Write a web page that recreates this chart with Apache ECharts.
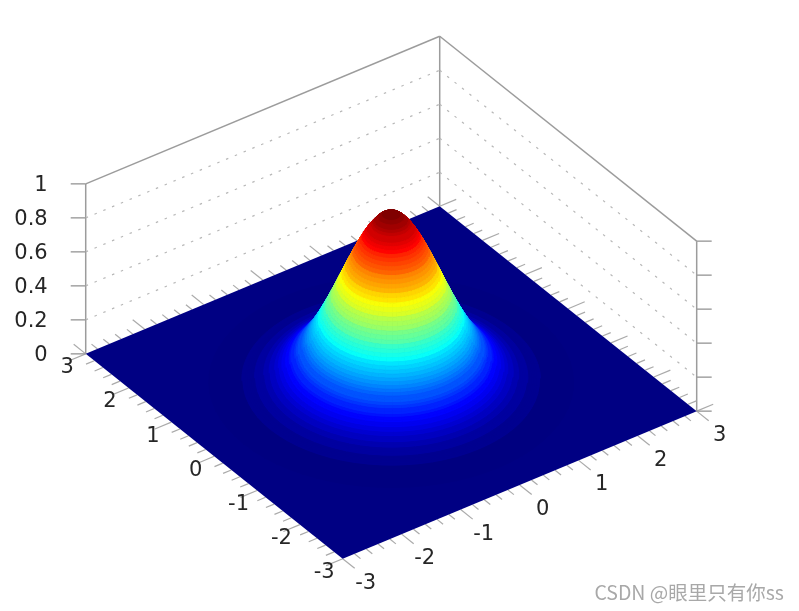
<!DOCTYPE html>
<html>
<head>
<meta charset="utf-8">
<title>surface</title>
<style>
  html, body { margin: 0; padding: 0; background: #fff; }
  /* the source picture is a soft upscaled raster */
  #main { width: 799px; height: 611px; filter: blur(0.45px); }
</style>
<script src="https://cdn.jsdelivr.net/npm/echarts@6/dist/echarts.min.js"></script>
</head>
<body>
<div id="main"></div>
<script>
// tick labels
var xTicks = [-3, -2, -1, 0, 1, 2, 3];
var yTicks = [-3, -2, -1, 0, 1, 2, 3];
var zTicks = [0, 0.2, 0.4, 0.6, 0.8, 1];
var zTickLabels = ['0', '0.2', '0.4', '0.6', '0.8', '1'];

// height of the bump against distance from the centre
var ringRadii = [
    0, 0.025, 0.05, 0.075, 0.1, 0.125, 0.15, 0.175, 0.2, 0.225,
    0.25, 0.275, 0.3, 0.325, 0.35, 0.375, 0.4, 0.425, 0.45, 0.475,
    0.5, 0.525, 0.55, 0.575, 0.6, 0.625, 0.65, 0.675, 0.7, 0.725,
    0.75, 0.775, 0.8, 0.825, 0.85, 0.875, 0.9, 0.925, 0.95, 0.975,
    1, 1.025, 1.05, 1.075, 1.1, 1.125, 1.15, 1.175, 1.2, 1.225,
    1.25, 1.275, 1.3, 1.325, 1.35, 1.375, 1.4, 1.425, 1.45, 1.475,
    1.5, 1.525, 1.55, 1.575, 1.6, 1.625, 1.65, 1.675, 1.7, 1.725,
    1.75, 1.775, 1.8, 1.825, 1.85, 1.875, 1.9, 1.925, 1.95, 1.975,
    2, 2.05, 2.1, 2.2, 2.3, 2.4, 2.5
];
var ringHeights = [
    1, 0.999, 0.998, 0.994, 0.99, 0.984, 0.978, 0.97, 0.961, 0.951,
    0.939, 0.927, 0.914, 0.9, 0.885, 0.869, 0.852, 0.835, 0.817, 0.798,
    0.779, 0.759, 0.739, 0.718, 0.698, 0.677, 0.655, 0.634, 0.613, 0.591,
    0.57, 0.548, 0.527, 0.506, 0.486, 0.465, 0.445, 0.425, 0.406, 0.387,
    0.368, 0.35, 0.332, 0.315, 0.298, 0.282, 0.266, 0.251, 0.237, 0.223,
    0.21, 0.197, 0.185, 0.173, 0.162, 0.151, 0.141, 0.131, 0.122, 0.114,
    0.105, 0.098, 0.09, 0.084, 0.077, 0.071, 0.066, 0.06, 0.056, 0.051,
    0.047, 0.043, 0.039, 0.036, 0.033, 0.03, 0.027, 0.025, 0.022, 0.02,
    0.018, 0.015, 0.012, 0.008, 0.005, 0.003, 0.002
];

var jetStops = [0, 0.125, 0.375, 0.625, 0.875, 1];
var jetColors = ['#000080', '#0000ff', '#00ffff', '#ffff00', '#ff0000', '#800000'];
var colorLevels = 64;
var angleSteps = 72;

var floorColor = '#000083';
var frameColor = '#9c9c9c';
var tickColor = '#aaaaaa';
var gridColor = '#b8b8b8';
var textColor = '#262626';

// screen position of a point of the box: one pixel axis per data axis
var origin = [391.2, 382.5];
var ex = [59, -24.6];
var ey = [-42.83, -34.15];
var ez = [0, -170];

function project(x, y, z) {
    return [
        origin[0] + x * ex[0] + y * ey[0] + z * ez[0],
        origin[1] + x * ex[1] + y * ey[1] + z * ez[1]
    ];
}

// direction towards the viewer, for back to front sorting of the facets
var view = [
    ey[0] * ez[1] - ez[0] * ey[1],
    ez[0] * ex[1] - ex[0] * ez[1],
    ex[0] * ey[1] - ey[0] * ex[1]
];
if (view[2] < 0) {
    view = [-view[0], -view[1], -view[2]];
}

function jetColor(value) {
    var level = Math.min(colorLevels - 1, Math.floor(value * colorLevels));
    var t = level / (colorLevels - 1);
    for (var i = 1; i < jetStops.length; i++) {
        if (t <= jetStops[i]) {
            var k = (t - jetStops[i - 1]) / (jetStops[i] - jetStops[i - 1]);
            return echarts.color.lerp(k, [jetColors[i - 1], jetColors[i]]);
        }
    }
    return jetColors[jetColors.length - 1];
}

function ringPoint(ring, step) {
    var a = step / angleSteps * Math.PI * 2;
    return [ringRadii[ring] * Math.cos(a), ringRadii[ring] * Math.sin(a), ringHeights[ring]];
}

// [ring, step] pairs, far ones first
var facets = [];
for (var r = 0; r < ringRadii.length - 1; r++) {
    for (var s = 0; s < angleSteps; s++) {
        var mid = ringPoint(r + 1, s + 0.5);
        facets.push({
            value: [r, s],
            depth: view[0] * mid[0] + view[1] * mid[1] + view[2] * mid[2]
        });
    }
}
facets.sort(function (a, b) {
    return a.depth - b.depth;
});

var xMin = xTicks[0], xMax = xTicks[xTicks.length - 1];
var yMin = yTicks[0], yMax = yTicks[yTicks.length - 1];
var zMax = zTicks[zTicks.length - 1];

var floorData = [[xMin, yMin], [xMax, yMin], [xMax, yMax], [xMin, yMax]];

// box edges
var frameLines = [
    [xMin, yMax, 0, xMin, yMax, zMax],
    [xMax, yMax, 0, xMax, yMax, zMax],
    [xMax, yMin, 0, xMax, yMin, zMax],
    [xMin, yMax, zMax, xMax, yMax, zMax],
    [xMax, yMax, zMax, xMax, yMin, zMax]
];
var gridLines = [];
var zTickLines = [];
zTicks.forEach(function (z) {
    zTickLines.push([xMin, yMax, z, xMin, yMax, z, -15]);
    zTickLines.push([xMax, yMin, z, xMax, yMin, z, 15]);
    if (z > 0 && z < zMax) {
        gridLines.push([xMin, yMax, z, xMax, yMax, z]);
        gridLines.push([xMax, yMax, z, xMax, yMin, z]);
    }
});

// floor edge ticks, long on the whole numbers and short on the fifths
var floorTicks = [];
for (var i = 0; i <= (xMax - xMin) * 5; i++) {
    var t = xMin + i / 5;
    var len = i % 5 === 0 ? 0.28 : 0.14;
    floorTicks.push([t, yMin, 0, t, yMin - len, 0]);
    floorTicks.push([t, yMax, 0, t, yMax + len, 0]);
    floorTicks.push([xMin, t, 0, xMin - len, t, 0]);
    floorTicks.push([xMax, t, 0, xMax + len, t, 0]);
}

function lineSeries(name, rows, style, z) {
    return {
        name: name,
        type: 'custom',
        coordinateSystem: 'cartesian2d',
        silent: true,
        clip: false,
        z: z,
        data: rows,
        renderItem: function (params, api) {
            var a = project(api.value(0), api.value(1), api.value(2));
            var b = project(api.value(3), api.value(4), api.value(5));
            var extra = api.value(6) || 0;
            var p1 = api.coord(a);
            var p2 = api.coord([b[0] + extra, b[1]]);
            return {
                type: 'line',
                shape: { x1: p1[0], y1: p1[1], x2: p2[0], y2: p2[1] },
                style: style
            };
        }
    };
}

// one label per tick: value on its axis and the pixel gap from the tick
function labelSeries(name, rows, z) {
    return {
        name: name,
        type: 'custom',
        coordinateSystem: 'cartesian2d',
        silent: true,
        clip: false,
        z: z,
        data: rows.map(function (row) {
            return row.slice(0, 5);
        }),
        renderItem: function (params, api) {
            var item = rows[params.dataIndex];
            var a = project(api.value(0), api.value(1), api.value(2));
            var p = api.coord([a[0] + api.value(3), a[1] + api.value(4)]);
            return {
                type: 'text',
                x: p[0],
                y: p[1],
                style: {
                    text: item[5],
                    fill: textColor,
                    font: '21px "DejaVu Sans"',
                    align: item[6],
                    verticalAlign: 'middle'
                }
            };
        }
    };
}

var labels = [];
xTicks.forEach(function (v) {
    labels.push([v, yMin, 0, 23, 24.5, String(v), 'center']);
});
yTicks.forEach(function (v) {
    labels.push([xMin, v, 0, -18.5, 14, String(v), 'center']);
});
zTicks.forEach(function (v, i) {
    labels.push([xMin, yMax, v, -38, 1.5, zTickLabels[i], 'right']);
});

var myChart = echarts.init(document.getElementById('main'));
var option = {
    animation: false,
    backgroundColor: '#fff',
    grid: { left: 0, right: 0, top: 0, bottom: 0 },
    xAxis: { type: 'value', min: 0, max: 799, show: false },
    yAxis: { type: 'value', min: 0, max: 611, inverse: true, show: false },
    tooltip: { show: false },
    graphic: [{
        type: 'text',
        right: 15,
        top: 583,
        z: 100,
        style: {
            text: 'CSDN @眼里只有你ss',
            fill: '#a8a8a8',
            font: '19.5px "Noto Sans CJK SC"'
        }
    }],
    series: [
        lineSeries('frame', frameLines, { stroke: frameColor, lineWidth: 1.5 }, 1),
        lineSeries('wallGrid', gridLines, { stroke: gridColor, lineWidth: 1.2, lineDash: [2.5, 7] }, 1),
        lineSeries('floorTicks', floorTicks, { stroke: tickColor, lineWidth: 1.2 }, 2),
        lineSeries('zTicks', zTickLines, { stroke: frameColor, lineWidth: 1.4 }, 2),
        {
            name: 'floor',
            type: 'custom',
            coordinateSystem: 'cartesian2d',
            silent: true,
            clip: false,
            z: 3,
            data: [floorData],
            renderItem: function (params, api) {
                var pts = floorData.map(function (c) {
                    return api.coord(project(c[0], c[1], 0));
                });
                return {
                    type: 'polygon',
                    shape: { points: pts },
                    style: { fill: floorColor }
                };
            }
        },
        {
            name: 'surface',
            type: 'custom',
            coordinateSystem: 'cartesian2d',
            silent: true,
            clip: false,
            progressive: 0,
            z: 4,
            data: facets,
            renderItem: function (params, api) {
                var r = api.value(0), s = api.value(1);
                var corners = [ringPoint(r, s), ringPoint(r, s + 1), ringPoint(r + 1, s + 1), ringPoint(r + 1, s)];
                var color = jetColor((ringHeights[r] + ringHeights[r + 1]) / 2);
                return {
                    type: 'polygon',
                    shape: {
                        points: corners.map(function (c) {
                            return api.coord(project(c[0], c[1], c[2]));
                        })
                    },
                    style: { fill: color, stroke: color, lineWidth: 1 }
                };
            }
        },
        labelSeries('tickLabels', labels, 5)
    ]
};
myChart.setOption(option);
</script>
</body>
</html>
